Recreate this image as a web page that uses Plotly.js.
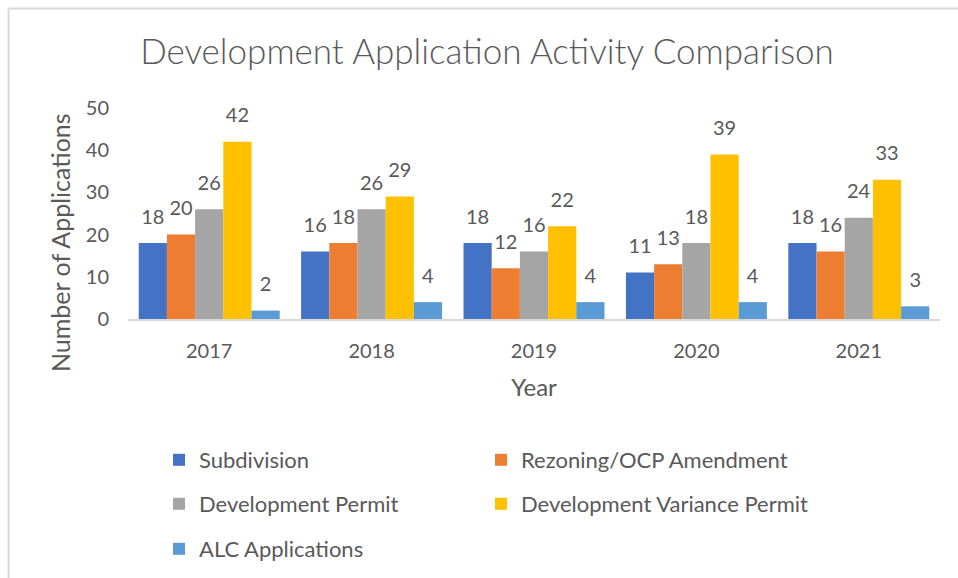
<!DOCTYPE html>
<html>
<head>
<meta charset="utf-8">
<script src="https://cdn.plot.ly/plotly-3.0.1.min.js"></script>
<style>html,body{margin:0;padding:0;background:#fff;}</style>
</head>
<body>
<div id="chart" style="width:958px;height:578px;"></div>
<script>
const years = ['2017', '2018', '2019', '2020', '2021'];
const subdivision = [18, 16, 18, 11, 18];
const rezoning = [20, 18, 12, 13, 16];
const devPermit = [26, 26, 16, 18, 24];
const devVariance = [42, 29, 22, 39, 33];
const alc = [2, 4, 4, 4, 3];

const seriesNames = ['Subdivision', 'Rezoning/OCP Amendment', 'Development Permit', 'Development Variance Permit', 'ALC Applications'];
const seriesValues = [subdivision, rezoning, devPermit, devVariance, alc];
const seriesColors = ['#4472C4', '#ED7D31', '#A5A5A5', '#FFC000', '#5B9BD5'];
const legendIds = ['legend', 'legend2', 'legend3', 'legend4', 'legend5'];

const W = 958, H = 578;
const M = {l: 128, r: 17.5, t: 108, b: 259, autoexpand: false};
const pw = W - M.l - M.r, ph = H - M.t - M.b;
const FONT = 'Lato, "Open Sans", sans-serif';
const TXT = '#595959';

const traces = seriesNames.map((name, i) => ({
  type: 'bar',
  name: name,
  x: years,
  y: seriesValues[i],
  marker: {color: seriesColors[i], line: {width: 0}},
  texttemplate: '<span style="font-size:20px">%{y}</span><br><span style="color:rgba(255,255,255,0)">.</span>',
  textposition: 'outside',
  constraintext: 'none',
  cliponaxis: false,
  textfont: {family: FONT, size: 11, color: TXT},
  legend: legendIds[i],
  hoverinfo: 'skip'
}));

// legend positions (container px -> fraction)
const legPos = [[159, 460], [481, 460], [159, 504], [481, 504], [159, 549]];
function legendCfg(i) {
  return {
    xref: 'container', yref: 'container',
    x: legPos[i][0] / W, y: 1 - legPos[i][1] / H,
    xanchor: 'left', yanchor: 'middle',
    font: {family: FONT, size: 22, color: TXT},
    bgcolor: 'rgba(0,0,0,0)', borderwidth: 0
  };
}

// border lines (px -> paper)
const px2x = p => (p - M.l) / pw;
const py2y = p => (H - M.b - p) / ph;

const layout = {
  width: W, height: H,
  margin: M,
  paper_bgcolor: '#ffffff', plot_bgcolor: '#ffffff',
  font: {family: FONT, color: TXT},
  title: {
    text: 'Development Application Activity Comparison',
    font: {family: FONT, size: 35, color: TXT, weight: 300},
    xref: 'container', yref: 'container',
    x: 487 / W, xanchor: 'center',
    y: 1 - 52 / H, yanchor: 'middle'
  },
  barmode: 'group',
  bargap: 0.132,
  bargroupgap: 0,
  xaxis: {
    type: 'category',
    showline: true, linecolor: '#D9D9D9', linewidth: 1.5,
    showgrid: false, zeroline: false,
    ticks: '', ticklabelstandoff: 13,
    tickfont: {family: FONT, size: 20, color: TXT},
    title: {text: 'Year', font: {family: FONT, size: 24, color: TXT}, standoff: 18}
  },
  yaxis: {
    range: [0, 50], dtick: 10,
    showline: false, showgrid: false, zeroline: false,
    ticks: '', ticklabelstandoff: 18,
    tickfont: {family: FONT, size: 20, color: TXT}
  },
  annotations: [{
    text: 'Number of Applications',
    textangle: -90,
    xref: 'paper', yref: 'paper',
    x: px2x(60), y: py2y(243),
    xanchor: 'center', yanchor: 'middle',
    showarrow: false,
    font: {family: FONT, size: 25, color: TXT}
  }],
  shapes: [
    {type: 'line', xref: 'paper', yref: 'paper', x0: px2x(8.5), x1: px2x(W + 2), y0: py2y(8.5), y1: py2y(8.5), line: {color: '#D9D9D9', width: 2}},
    {type: 'line', xref: 'paper', yref: 'paper', x0: px2x(8.5), x1: px2x(8.5), y0: py2y(8.5), y1: py2y(H + 2), line: {color: '#D9D9D9', width: 2}}
  ],
  showlegend: true
};
legendIds.forEach((id, i) => { layout[id] = legendCfg(i); });

Plotly.newPlot('chart', traces, layout, {displayModeBar: false, staticPlot: true});
</script>
</body>
</html>
